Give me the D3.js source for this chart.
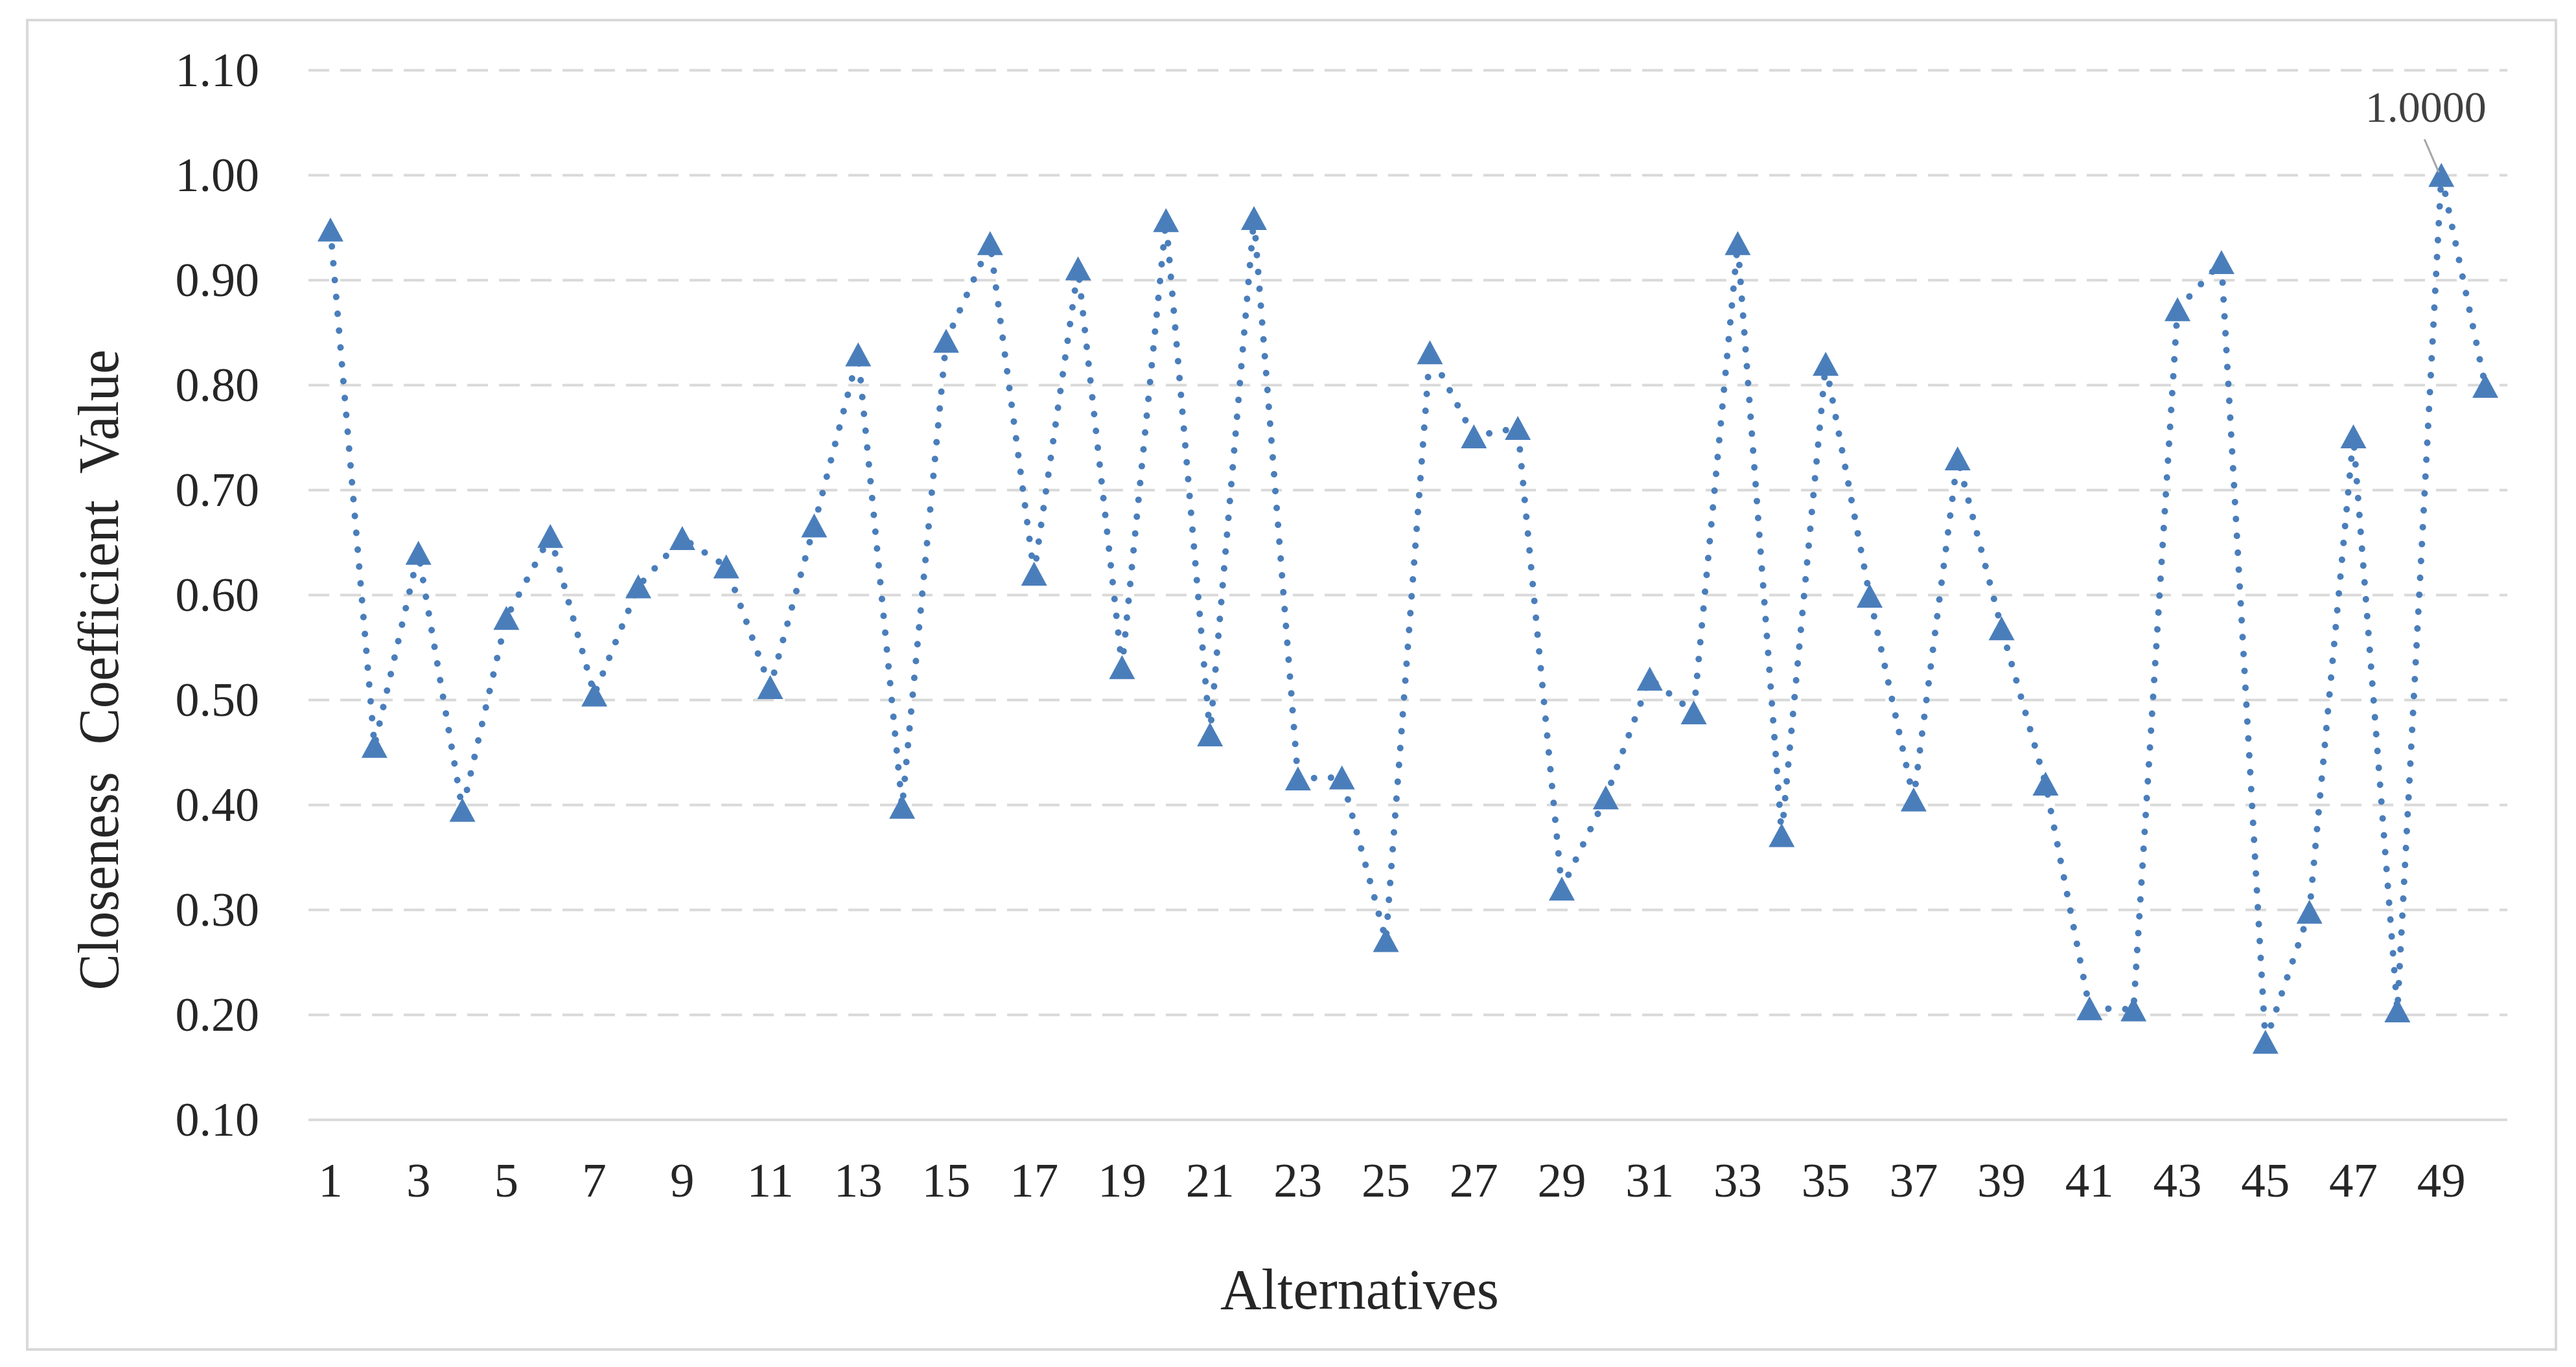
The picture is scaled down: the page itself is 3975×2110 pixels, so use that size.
<!DOCTYPE html>
<html>
<head>
<meta charset="utf-8">
<script src="https://cdn.jsdelivr.net/npm/d3@7"></script>
<style>
  html, body { margin: 0; padding: 0; background: #ffffff; }
  svg { display: block; }
</style>
</head>
<body>
<svg id="chart" width="3975" height="2110"></svg>
<script>
// ---- data ----
const categories = [1,2,3,4,5,6,7,8,9,10,11,12,13,14,15,16,17,18,19,20,
                    21,22,23,24,25,26,27,28,29,30,31,32,33,34,35,36,37,38,39,40,
                    41,42,43,44,45,46,47,48,49,50];
const closeness = [0.948,0.456,0.640,0.395,0.578,0.656,0.505,0.608,0.654,0.627,
                   0.512,0.666,0.829,0.398,0.842,0.935,0.620,0.911,0.531,0.957,
                   0.467,0.959,0.425,0.426,0.271,0.831,0.751,0.759,0.320,0.407,
                   0.520,0.488,0.935,0.371,0.820,0.599,0.405,0.730,0.568,0.420,
                   0.206,0.205,0.872,0.917,0.174,0.298,0.751,0.204,1.000,0.799];
const yTicks = [0.10,0.20,0.30,0.40,0.50,0.60,0.70,0.80,0.90,1.00,1.10];
const xTickLabels = [1,3,5,7,9,11,13,15,17,19,21,23,25,27,29,31,33,35,37,39,41,43,45,47,49];
const annotatedCategory = 49;
const annotationText = "1.0000";
const xTitle = "Alternatives";
const yTitle = "Closeness  Coefficient  Value";

// ---- layout ----
const plot = { left: 476, right: 3869, top: 108, bottom: 1728 };
const FONT = "'Liberation Serif', 'Times New Roman', serif";
const lineColor = "#4a7ebb";

const svg = d3.select("#chart");

// outer frame
svg.append("rect")
  .attr("x", 42).attr("y", 31)
  .attr("width", 3944 - 42).attr("height", 2083 - 31)
  .attr("fill", "#ffffff")
  .attr("stroke", "#d9d9d9").attr("stroke-width", 4);

const x = d3.scaleBand().domain(categories).range([plot.left, plot.right]);
const xc = d => x(d) + x.bandwidth() / 2;
const y = d3.scaleLinear().domain([0.10, 1.10]).range([plot.bottom, plot.top]);

// y axis with gridlines
const yAxis = d3.axisLeft(y)
  .tickValues(yTicks)
  .tickSize(-(plot.right - plot.left))
  .tickPadding(76)
  .tickFormat(d3.format(".2f"));

const gy = svg.append("g")
  .attr("transform", `translate(${plot.left},0)`)
  .call(yAxis);
gy.select(".domain").remove();
gy.selectAll(".tick line")
  .attr("stroke", "#d9d9d9")
  .attr("stroke-width", 4)
  .attr("stroke-dasharray", d => Math.abs(d - 0.10) < 1e-9 ? null : "32,17");
gy.selectAll(".tick text")
  .attr("font-family", FONT)
  .attr("font-size", 74)
  .attr("fill", "#262626")
  .attr("dy", "0.33em");

// x axis
const xAxis = d3.axisBottom(x).tickValues(xTickLabels).tickSize(0);
const gx = svg.append("g")
  .attr("transform", `translate(0,${plot.bottom})`)
  .call(xAxis);
gx.select(".domain").remove();
gx.selectAll(".tick text")
  .attr("font-family", FONT)
  .attr("font-size", 75)
  .attr("fill", "#262626")
  .attr("y", 119)
  .attr("dy", 0);

// axis titles
svg.append("text")
  .attr("x", 2098)
  .attr("y", 2020)
  .attr("text-anchor", "middle")
  .attr("font-family", FONT)
  .attr("font-size", 88)
  .attr("fill", "#262626")
  .text(xTitle);

svg.append("text")
  .attr("transform", "translate(153,1034) rotate(-90)")
  .attr("text-anchor", "middle")
  .attr("dy", "0.33em")
  .attr("font-family", FONT)
  .attr("font-size", 88)
  .attr("fill", "#262626")
  .attr("textLength", 989)
  .attr("lengthAdjust", "spacingAndGlyphs")
  .style("white-space", "pre")
  .text(yTitle);

// line
const pts = categories.map((c, i) => ({ c, v: closeness[i] }));
const line = d3.line().x(d => xc(d.c)).y(d => y(d.v));
svg.append("path")
  .datum(pts)
  .attr("d", line)
  .attr("fill", "none")
  .attr("stroke", lineColor)
  .attr("stroke-width", 10)
  .attr("stroke-linecap", "round")
  .attr("stroke-dasharray", "0.1,26");

// triangle markers (bbox-centred triangle, 40 wide x 37 tall)
const triBox = {
  draw(context, size) {
    const w = Math.sqrt(size * 2 / 0.925);
    const h = w * 0.925;
    context.moveTo(0, -h / 2);
    context.lineTo(w / 2, h / 2);
    context.lineTo(-w / 2, h / 2);
    context.closePath();
  }
};
const tri = d3.symbol().type(triBox).size(40 * 37 / 2);
svg.append("g").selectAll("path")
  .data(pts)
  .join("path")
  .attr("d", tri)
  .attr("transform", d => `translate(${xc(d.c)},${y(d.v)})`)
  .attr("fill", lineColor);

// annotation
const ai = categories.indexOf(annotatedCategory);
const ax = xc(annotatedCategory), ay = y(closeness[ai]);
svg.append("line")
  .attr("x1", ax - 26).attr("y1", ay - 55)
  .attr("x2", ax - 4).attr("y2", ay - 4)
  .attr("stroke", "#a6a6a6").attr("stroke-width", 3);
svg.append("text")
  .attr("x", ax - 24)
  .attr("y", ay - 82)
  .attr("text-anchor", "middle")
  .attr("font-family", FONT)
  .attr("font-size", 68)
  .attr("fill", "#404040")
  .text(annotationText);
</script>
</body>
</html>
